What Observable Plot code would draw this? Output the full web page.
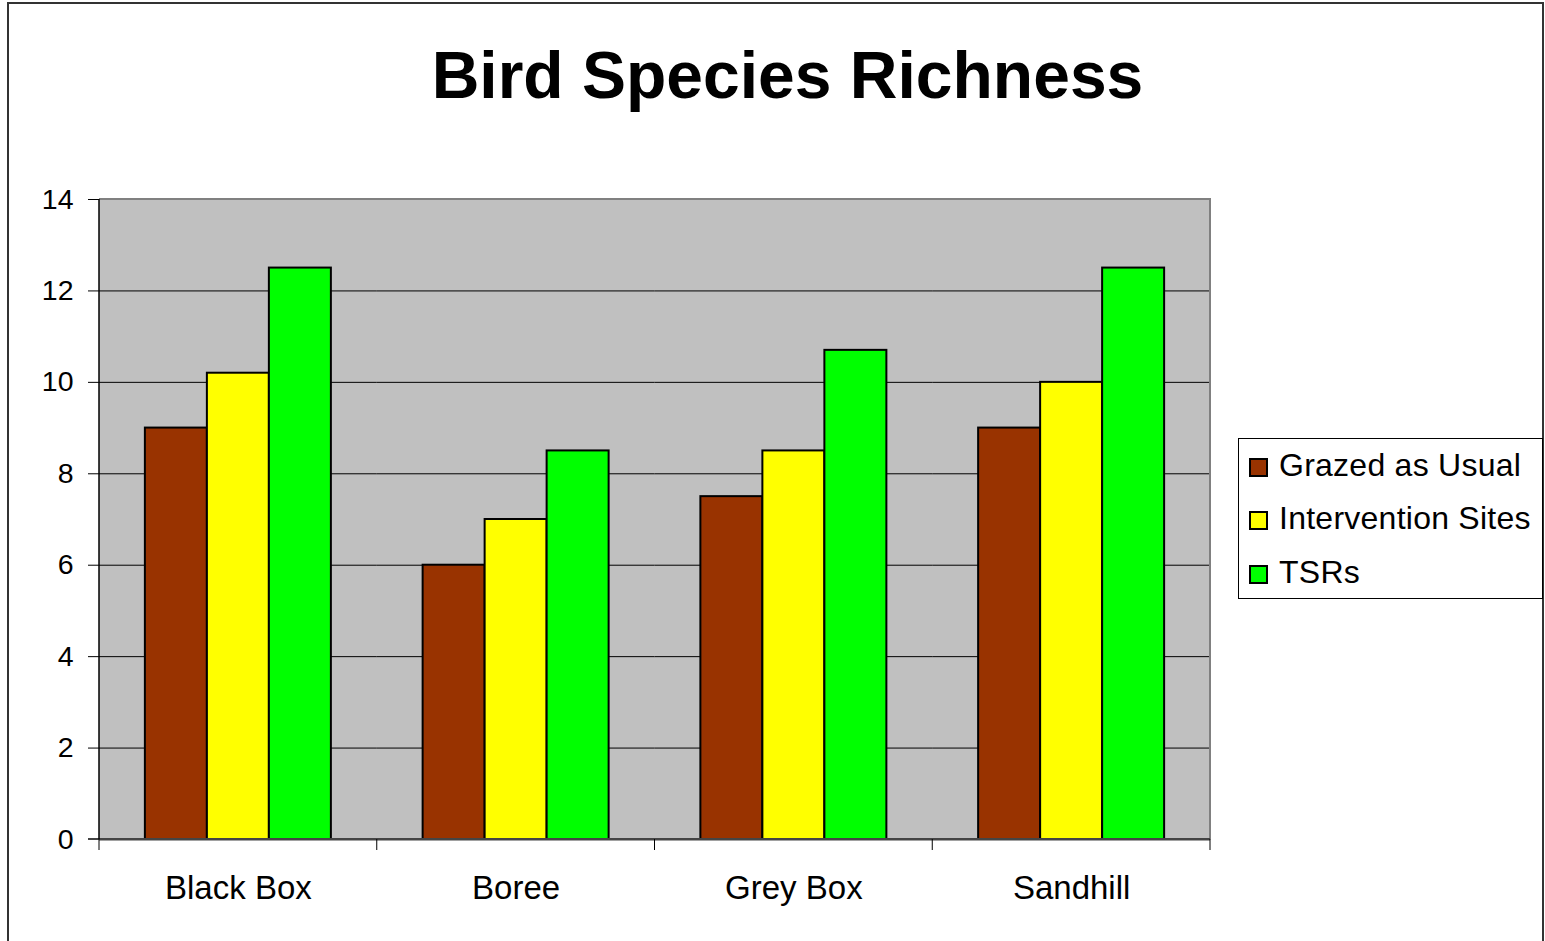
<!DOCTYPE html>
<html><head><meta charset="utf-8">
<script src="https://cdn.jsdelivr.net/npm/d3@7"></script>
<script src="https://cdn.jsdelivr.net/npm/@observablehq/plot@0.6"></script>
<style>
body{margin:0;background:#fff;font-family:"Liberation Sans",Arial,sans-serif;width:1545px;height:941px;overflow:hidden;position:relative;}
#frame{position:absolute;left:7px;top:2px;width:1537px;height:960px;border:2px solid #333;box-sizing:border-box;}
#title{position:absolute;left:0;width:1575px;top:42px;text-align:center;font-weight:bold;font-size:66px;line-height:66px;color:#000;}
#chart{position:absolute;left:0;top:140px;}
#legend{position:absolute;left:1238px;top:438px;width:305px;height:161px;border:1px solid #000;box-sizing:border-box;background:#fff;}
.item{position:absolute;left:10px;height:40px;display:flex;align-items:center;font-size:32px;white-space:nowrap;letter-spacing:0.25px;}
.sw{width:15px;height:15px;border:2px solid #000;margin-right:11px;margin-top:4px;}
</style></head>
<body>
<div id="frame"></div>
<div id="title">Bird Species Richness</div>
<div id="chart"></div>
<div id="legend"></div>
<script>
const sites = ["Black Box", "Boree", "Grey Box", "Sandhill"];
const series = ["Grazed as Usual", "Intervention Sites", "TSRs"];
const grazed = [9, 6, 7.5, 9];
const intervention = [10.2, 7, 8.5, 10];
const tsrs = [12.5, 8.5, 10.7, 12.5];
const colors = ["#993300", "#ffff00", "#00ff00"];
const yTicks = [0, 2, 4, 6, 8, 10, 12, 14];

const values = [grazed, intervention, tsrs];
const rows = sites.flatMap((s, i) => series.map((name, j) => ({site: s, series: name, value: values[j][i]})));

const W = 1240, H = 801, ML = 99, MR = 30, MT = 59, MB = 102;
const chart = Plot.plot({
  width: W, height: H, marginLeft: ML, marginRight: MR, marginTop: MT, marginBottom: MB,
  style: {fontFamily: "Liberation Sans, Arial, sans-serif", fontSize: "33px", background: "transparent", overflow: "visible", color: "#000"},
  facet: {data: rows, x: "site"},
  fx: {domain: sites, padding: 0, round: false, axis: "bottom", label: null, tickSize: 0, tickPadding: 36},
  x: {domain: series, paddingInner: 0, paddingOuter: 0.74, round: false, axis: null},
  y: {domain: [0, 14], ticks: yTicks, tickSize: 11, tickPadding: 15, label: null, line: true},
  color: {domain: series, range: colors},
  marks: [
    Plot.frame({fill: "#c0c0c0", stroke: "#c0c0c0", strokeWidth: 1}),
    Plot.ruleY(yTicks.slice(1, -1), {stroke: "#000", strokeWidth: 1}),
    Plot.barY(rows, {x: "series", y: "value", fill: "series", stroke: "#000", strokeWidth: 2}),
    Plot.ruleY([0], {stroke: "#444", strokeWidth: 2})
  ]
});
document.getElementById("chart").appendChild(chart);

const svg = d3.select(chart);
// y tick labels are a little smaller than the category labels
svg.selectAll("g[aria-label*='y-axis'] text").style("font-size", "28.5px");

let fx = null, ys = null;
try { fx = chart.scale("fx"); ys = chart.scale("y"); } catch (e) {}
const x0 = ML, x1 = W - MR;
const y0 = ys ? ys.apply(14) : MT;
const yb = ys ? ys.apply(0) : H - MB;
let bounds = [];
if (fx && fx.apply) {
  bounds = sites.map(s => fx.apply(s));
  bounds.push(fx.apply(sites[sites.length - 1]) + (fx.bandwidth || (x1 - x0) / sites.length));
} else {
  bounds = d3.range(sites.length + 1).map(i => x0 + i * (x1 - x0) / sites.length);
}
svg.append("path")
  .attr("d", `M${x0},${y0}H${x1}V${yb}`)
  .attr("fill", "none").attr("stroke", "#808080").attr("stroke-width", 2);
svg.append("line").attr("x1", x0 - 11).attr("x2", x1).attr("y1", yb).attr("y2", yb)
  .attr("stroke", "#444").attr("stroke-width", 2);
svg.append("line").attr("x1", x0).attr("x2", x0).attr("y1", y0).attr("y2", yb)
  .attr("stroke", "#000").attr("stroke-width", 1.5);
svg.selectAll("line.bt").data(bounds).join("line").attr("class", "bt")
  .attr("x1", d => d).attr("x2", d => d).attr("y1", yb).attr("y2", yb + 11)
  .attr("stroke", "#000").attr("stroke-width", 1);

// legend
const leg = document.getElementById("legend");
series.forEach((name, j) => {
  const it = document.createElement("div");
  it.className = "item";
  it.style.top = (6 + j * 53.5) + "px";
  const sw = document.createElement("div");
  sw.className = "sw";
  sw.style.background = colors[j];
  const tx = document.createElement("span");
  tx.textContent = name;
  it.appendChild(sw); it.appendChild(tx);
  leg.appendChild(it);
});
</script>
</body></html>
